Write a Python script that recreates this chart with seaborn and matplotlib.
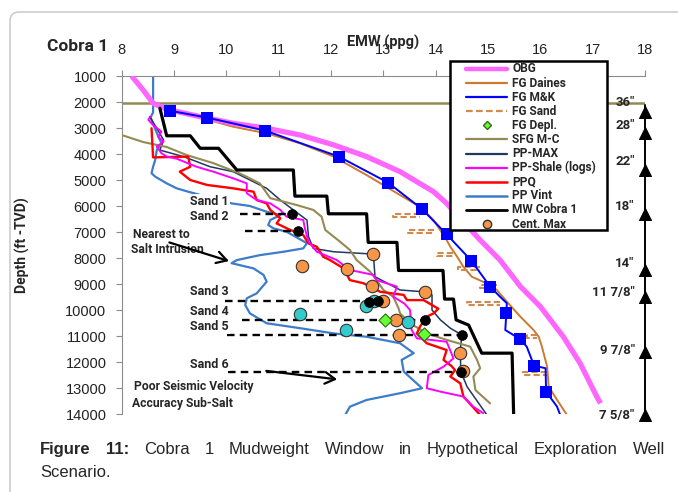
import numpy as np
import pandas as pd
import matplotlib
matplotlib.use("Agg")
import matplotlib.pyplot as plt
import seaborn as sns
from matplotlib.lines import Line2D
from matplotlib.patches import FancyBboxPatch, Rectangle
from matplotlib.transforms import IdentityTransform

# ---------------- data (ppg vs depth ft TVD) ----------------
obg_ppg = [8.19, 8.41, 8.60, 8.86, 9.50, 10.13, 10.77, 11.41, 12.05, 12.68, 13.32, 13.96,
           14.21, 14.50, 14.85, 15.23, 15.62, 16.00, 16.44, 16.76, 17.08, 17.15]
obg_depth = [1000, 1540, 2050, 2280, 2565, 2820, 3010, 3270, 3650, 4100, 4680, 5450,
             5900, 6550, 7310, 8080, 9100, 9870, 11030, 12050, 13340, 13590]

daines_ppg = [9.40, 10.13, 10.77, 11.41, 12.05, 12.68, 13.32, 13.70, 13.96, 14.21, 14.28, 14.41,
              14.53, 14.69, 14.98, 15.17, 15.36, 15.62, 15.87, 15.97, 16.03, 16.13, 16.16, 16.32, 16.51]
daines_depth = [2550, 2950, 3205, 3590, 4100, 4810, 5580, 6030, 6540, 7310, 7570, 7950,
                8340, 8720, 8980, 9230, 9680, 10260, 10770, 11030, 11410, 12180, 12950, 13460, 14040]

mk_ppg = [8.92, 9.63, 10.74, 12.15, 13.09, 13.74, 14.21, 14.68, 15.04, 15.23, 15.36, 15.35,
          15.33, 15.62, 15.74, 15.88, 16.10, 16.11, 16.32, 16.38]
mk_depth = [2335, 2600, 3100, 4100, 5100, 6120, 7090, 8100, 9100, 9490, 9740, 10130,
            10770, 11130, 11410, 12140, 12240, 13140, 13720, 14040]
mk_sq_ppg = [8.92, 9.63, 10.74, 12.15, 13.09, 13.74, 14.21, 14.68, 15.04, 15.35, 15.62, 15.88, 16.11]
mk_sq_depth = [2335, 2600, 3100, 4100, 5100, 6120, 7090, 8100, 9100, 10130, 11130, 12140, 13140]

# FG Sand: stepped dashed segments at sand depths
sand_fg_depth = [6350, 6990, 7870, 8400, 9100, 9740, 11030, 12430]
sand_fg_left = [13.19, 13.47, 14.03, 14.43, 14.85, 14.60, 15.75, 15.67]
sand_fg_right = [13.70, 13.96, 14.34, 14.85, 15.18, 15.23, 15.94, 16.13]

depl_ppg = [13.03, 13.77]
depl_depth = [10400, 10920]

sfg_ppg = [8.00, 8.41, 8.86, 9.24, 9.75, 10.26, 10.64, 10.84, 11.34, 11.66, 11.82, 11.89, 12.17,
           12.36, 12.49, 12.75, 12.87, 13.00, 13.19, 13.29, 13.32, 13.51, 13.83, 14.21, 14.66,
           14.79, 14.85, 14.72, 14.76, 15.04]
sfg_depth = [3270, 3540, 3730, 4040, 4350, 4750, 5130, 5700, 5960, 6150, 6410, 6920, 7370,
             7690, 8080, 8530, 8850, 9230, 9490, 9930, 10130, 10510, 10900, 11150, 11410,
             11920, 12240, 12560, 13080, 13590]

ppmax_ppg = [8.54, 8.80, 8.73, 9.18, 9.69, 10.13, 10.45, 10.77, 11.03, 11.28, 11.54, 11.57, 11.66,
             12.05, 12.81, 12.84, 13.32, 13.77, 13.93, 13.93, 14.09, 14.28, 14.50, 14.47, 14.48,
             14.60, 14.98]
ppmax_depth = [2565, 3460, 3850, 4100, 4490, 4680, 5000, 5320, 5770, 6150, 6540, 7180, 7630,
               7760, 7850, 8720, 9230, 9300, 9420, 10000, 10380, 10700, 10960, 11540, 12370,
               12950, 14040]

shale_ppg = [8.54, 8.51, 8.60, 8.76, 8.70, 8.80, 8.67, 8.76, 8.86, 9.05, 9.43, 9.75, 10.13, 10.39,
             10.39, 10.58, 10.84, 11.03, 11.15, 11.47, 11.50, 11.57, 11.73, 12.11, 12.36, 12.81,
             12.87, 13.26, 13.19, 13.40, 13.51, 13.54, 13.64, 14.21, 14.34, 14.15, 13.86, 13.83,
             14.09, 14.53, 14.72, 14.91]
shale_depth = [2565, 2690, 2885, 3140, 3330, 3525, 3720, 3970, 4100, 4180, 4490, 4680, 4935, 5130,
               5510, 5770, 5900, 6150, 6410, 6540, 6860, 7370, 7760, 8080, 8460, 8650,
               8850, 9100, 9490, 9750, 10000, 10770, 11090, 11220, 11860, 12180, 12500, 13010,
               13140, 13330, 13720, 13970]

ppq_ppg = [8.57, 8.60, 9.27, 9.31, 9.11, 9.31, 9.63, 10.13, 10.52, 10.58, 10.77, 10.84, 11.03,
           10.96, 11.22, 11.47, 11.57, 11.73, 11.85, 11.98, 12.24, 12.36, 12.62, 12.94, 13.39,
           13.45, 13.77, 14.05, 13.96, 13.83, 13.70, 13.64, 13.83, 14.21, 14.15, 14.30, 14.37,
           14.28, 14.47, 14.53, 14.59, 14.85]
ppq_depth = [3010, 4130, 4100, 4490, 4680, 5000, 5190, 5320, 5450, 5770, 5900, 6150, 6470,
             6670, 6920, 7120, 7440, 7570, 7950, 8080, 8400, 8850, 8970, 9300, 9420,
             9620, 9620, 9950, 10130, 10260, 10640, 10900, 11280, 11540, 11920, 12150, 12310,
             12560, 12820, 13330, 13460, 14040]

vint_ppg = [8.60, 8.60, 8.55, 8.70, 8.76, 8.67, 8.64, 8.60, 8.57, 8.64, 8.86, 9.05, 9.27, 10.10,
            10.45, 10.77, 11.03, 10.84, 10.80, 10.90, 11.15, 11.54, 11.47, 11.09, 10.64, 10.20,
            10.10, 10.52, 10.71, 10.77, 10.58, 10.39, 10.36, 10.45, 10.77, 11.41, 12.05, 12.68,
            13.32, 13.58, 13.35, 13.39, 13.74, 13.32, 12.68, 12.36, 12.27]
vint_depth = [1000, 2400, 2600, 3330, 3590, 3850, 4230, 4490, 4740, 4870, 5130, 5320, 5450, 5900,
              6000, 6220, 6350, 6540, 6730, 6860, 6990, 7430, 7630, 7760, 7890, 8080,
              8200, 8400, 8650, 8910, 9360, 9550, 9810, 10130, 10510, 10700, 10900, 11030,
              11280, 11660, 11920, 12370, 13010, 13200, 13460, 13720, 14040]

mw_ppg = [8.73, 8.86, 9.31, 9.50, 9.85, 10.20, 11.28, 11.31, 11.92, 11.95, 12.68, 12.71, 13.26,
          13.29, 14.14, 14.17, 14.34, 14.39, 14.63, 14.88, 15.46, 15.49]
mw_depth = [2240, 3300, 3300, 3780, 3780, 4615, 4615, 5620, 5620, 6300, 6300, 7400, 7400,
            8480, 8480, 9580, 9580, 10380, 10580, 11660, 11660, 14040]

cent_ppg = [12.81, 11.44, 12.30, 12.78, 13.80, 13.00, 13.24, 13.30, 14.47, 14.53]
cent_depth = [7850, 8310, 8440, 9080, 9300, 9660, 10380, 10980, 11640, 12350]

teal_ppg = [11.41, 12.28, 12.66, 12.83, 13.48]
teal_depth = [10150, 10780, 9830, 9640, 10450]

black_ppg = [11.25, 11.36, 12.72, 12.90, 13.80, 14.50, 14.48]
black_depth = [6310, 6950, 9700, 9650, 10385, 10960, 12370]

sand_line_depth = [6310, 6950, 9660, 10380, 10960, 12370]
sand_line_start = [10.26, 10.36, 9.98, 10.29, 10.01, 10.04]
sand_line_end = [11.25, 11.36, 12.70, 13.80, 14.50, 14.48]
sand_labels = ["Sand 1", "Sand 2", "Sand 3", "Sand 4", "Sand 5", "Sand 6"]
sand_label_depth = [5830, 6420, 9270, 10040, 10640, 12080]

mudline_depth = 2050
casing_depth = [2400, 3200, 4600, 6300, 8450, 9500, 11600, 14050]
casing_label = ['36"', '28"', '22"', '18"', '14"', '11 7/8"', '9 7/8"', '7 5/8"']
casing_label_depth = [2000, 2885, 4296, 6027, 8230, 9310, 11540, 14040]

legend_labels = ["OBG", "FG Daines", "FG M&K", "FG Sand", "FG Depl.", "SFG M-C", "PP-MAX",
                 "PP-Shale (logs)", "PPQ", "PP Vint", "MW Cobra 1", "Cent. Max"]

# ---------------- colours ----------------
C_OBG = "#FF66FF"
C_DAINES = "#CC7A2E"
C_MK = "#0000FF"
C_SAND = "#D08A4E"
C_DEPL = "#66FF33"
C_SFG = "#948A54"
C_PPMAX = "#1F3864"
C_SHALE = "#FF00FF"
C_PPQ = "#FF0000"
C_VINT = "#3D7CC9"
C_MW = "#000000"
C_CENT = "#F79646"
C_TEAL = "#33CCCC"

sns.set_theme(style="white")
plt.rcParams['font.family'] = ['Liberation Sans', 'DejaVu Sans']
BOLD = ['Roboto', 'DejaVu Sans']

W, H = 678, 492
fig = plt.figure(figsize=(W / 100, H / 100), dpi=100)
fig.patch.set_facecolor("white")
ax = fig.add_axes([121.7 / W, 1 - 414 / H, (645 - 121.7) / W, (414 - 76) / H])
ax.set_facecolor("white")


def fx(x, y):
    return (x / W, 1 - y / H)


def line(xs, ys, **kw):
    df = pd.DataFrame({"ppg": xs, "depth": ys})
    sns.lineplot(data=df, x="ppg", y="depth", sort=False, estimator=None, ax=ax,
                 legend=False, **kw)


# lines
line(vint_ppg, vint_depth, color=C_VINT, linewidth=1.6, zorder=2)
line(ppmax_ppg, ppmax_depth, color=C_PPMAX, linewidth=1.1, zorder=3)
line(sfg_ppg, sfg_depth, color=C_SFG, linewidth=1.5, zorder=3)
line(ppq_ppg, ppq_depth, color=C_PPQ, linewidth=1.7, zorder=4)
line(shale_ppg, shale_depth, color=C_SHALE, linewidth=1.4, zorder=4)
line(daines_ppg, daines_depth, color=C_DAINES, linewidth=1.4, zorder=3)

# FG Sand stepped dashed segments
rows = []
for i, (d, l, r) in enumerate(zip(sand_fg_depth, sand_fg_left, sand_fg_right)):
    for xx, yy in [(r, d - 60), (l, d - 60), (l, d + 60), (r, d + 60)]:
        rows.append({"seg": i, "ppg": xx, "depth": yy})
sdf = pd.DataFrame(rows)
sns.lineplot(data=sdf, x="ppg", y="depth", units="seg", estimator=None, sort=False, ax=ax,
             color=C_SAND, linewidth=1.5, linestyle=(0, (3, 1.5)), legend=False, zorder=3)

line(mk_ppg, mk_depth, color=C_MK, linewidth=1.4, zorder=5)
line(obg_ppg, obg_depth, color=C_OBG, linewidth=3.8, zorder=4, solid_capstyle="butt")
ax.axhline(mudline_depth, color=C_SFG, linewidth=1.8, zorder=2)
line(mw_ppg, mw_depth, color=C_MW, linewidth=2.3, zorder=6)

# sand dashed lines
for d, s, e in zip(sand_line_depth, sand_line_start, sand_line_end):
    line([s, e], [d, d], color="black", linewidth=1.7, linestyle=(0, (3.2, 2.2)), zorder=6)

# markers
sns.scatterplot(x=mk_sq_ppg, y=mk_sq_depth, marker="s", s=85, color=C_MK, edgecolor=C_MK,
                linewidth=0, ax=ax, legend=False, zorder=7)
sns.scatterplot(x=cent_ppg, y=cent_depth, marker="o", s=80, color=C_CENT, edgecolor="#333333",
                linewidth=0.8, ax=ax, legend=False, zorder=8)
sns.scatterplot(x=teal_ppg, y=teal_depth, marker="o", s=80, color=C_TEAL, edgecolor="#333333",
                linewidth=0.8, ax=ax, legend=False, zorder=8)
sns.scatterplot(x=black_ppg, y=black_depth, marker="o", s=50, color="black", edgecolor="black",
                linewidth=0.5, ax=ax, legend=False, zorder=9)
sns.scatterplot(x=depl_ppg, y=depl_depth, marker="D", s=45, color=C_DEPL, edgecolor="#2E6B12",
                linewidth=0.8, ax=ax, legend=False, zorder=9)

# casing column
line([18] * 2, [mudline_depth + 50, casing_depth[-1]], color="black", linewidth=1.4, zorder=6)
ax.lines[-1].set_clip_on(False)
sns.scatterplot(x=[18] * len(casing_depth), y=casing_depth, marker="^", s=75, color="black",
                edgecolor="black", ax=ax, legend=False, zorder=7, clip_on=False)
for lab, d in zip(casing_label, casing_label_depth):
    ax.text(17.80, d, lab, ha="right", va="center", fontsize=9.5, fontweight="bold",
            family=BOLD, clip_on=False, zorder=10)

# sand labels
for lab, d in zip(sand_labels, sand_label_depth):
    ax.text(10.05, d, lab, ha="right", va="center", fontsize=9, fontweight="bold",
            family=BOLD, zorder=10,
            bbox=dict(facecolor="white", edgecolor="none", pad=0.6))

ax.text(8.22, 7115, "Nearest to", ha="left", va="center", fontsize=8.7, fontweight="bold",
        family=BOLD, zorder=10)
ax.text(8.17, 7654, "Salt Intrusion", ha="left", va="center", fontsize=8.7, fontweight="bold",
        family=BOLD, zorder=10)
ax.annotate("", xy=(10.1, 8150), xytext=(8.86, 7370),
            arrowprops=dict(arrowstyle="->,head_length=0.6,head_width=0.35", lw=1.6, color="black"),
            zorder=10)
ax.text(8.23, 12960, "Poor Seismic Velocity", ha="left", va="center", fontsize=8.7,
        fontweight="bold", family=BOLD, zorder=10)
ax.text(8.19, 13580, "Accuracy Sub-Salt", ha="left", va="center", fontsize=8.7,
        fontweight="bold", family=BOLD, zorder=10)
ax.annotate("", xy=(12.17, 12680), xytext=(10.71, 12330),
            arrowprops=dict(arrowstyle="->,head_length=0.6,head_width=0.35", lw=1.6, color="black"),
            zorder=10)

# axes styling
ax.set_xlim(8, 18)
ax.set_ylim(14000, 1000)
ax.xaxis.tick_top()
ax.set_xticks(range(8, 19))
ax.set_yticks(range(1000, 14001, 1000))
ax.set_xlabel("")
ax.set_ylabel("")
ax.tick_params(axis="x", which="both", top=True, bottom=False, direction="out", length=4,
               width=0.8, color="#8c8c8c", pad=9.5, labelsize=10.5, labelcolor="#222222")
ax.tick_params(axis="y", which="both", left=True, direction="out", length=4, width=0.8,
               color="#8c8c8c", pad=7, labelsize=10.5, labelcolor="#222222")
for s in ["right", "bottom"]:
    ax.spines[s].set_visible(False)
for s in ["top", "left"]:
    ax.spines[s].set_color("#8c8c8c")
    ax.spines[s].set_linewidth(0.8)

# titles
fig.text(*fx(47, 46.5), "Cobra 1", ha="left", va="center", fontsize=12.5, fontweight="bold",
         family=BOLD)
fig.text(*fx(383, 42.5), "EMW (ppg)", ha="center", va="center", fontsize=10.5, fontweight="bold",
         family=BOLD, zorder=5)
fig.text(*fx(22, 245), "Depth (ft -TVD)", ha="center", va="center", rotation=90, fontsize=10,
         fontweight="bold", family=BOLD)

# manual legend
lx0, ly0, lx1, ly1 = 449.5, 61.5, 606.5, 230
fig.add_artist(Rectangle(fx(lx0, ly1), (lx1 - lx0) / W, (ly1 - ly0) / H, transform=fig.transFigure,
                         facecolor="white", edgecolor="black", linewidth=1.8, zorder=20))
styles = [
    dict(color=C_OBG, lw=3.2),
    dict(color=C_DAINES, lw=1.6),
    dict(color=C_MK, lw=1.6),
    dict(color=C_SAND, lw=1.6, ls=(0, (3, 1.5))),
    dict(marker="D", color=C_DEPL, mec="#2E6B12", ms=4.5),
    dict(color=C_SFG, lw=1.6),
    dict(color=C_PPMAX, lw=1.6),
    dict(color=C_SHALE, lw=1.6),
    dict(color=C_PPQ, lw=1.8),
    dict(color=C_VINT, lw=1.8),
    dict(color="black", lw=2.0),
    dict(marker="o", color=C_CENT, mec="#333333", ms=6),
]
for i, (lab, st) in enumerate(zip(legend_labels, styles)):
    y = 69 + i * 14.1
    if "marker" in st:
        fig.add_artist(Line2D([486.5 / W], [1 - y / H], linestyle="none", marker=st["marker"],
                              markerfacecolor=st["color"], markeredgecolor=st["mec"],
                              markersize=st["ms"], transform=fig.transFigure, zorder=21))
    else:
        fig.add_artist(Line2D([466 / W, 506.5 / W], [1 - y / H, 1 - y / H], color=st["color"],
                              linewidth=st["lw"], linestyle=st.get("ls", "-"),
                              transform=fig.transFigure, zorder=21))
    fig.text(512.5 / W, 1 - y / H, lab, ha="left", va="center", fontsize=8.6,
             fontweight="bold", family=BOLD, zorder=22)

# outer rounded frame
frame = FancyBboxPatch((10, -30), 700, 510, boxstyle="round,pad=0,rounding_size=9",
                       transform=IdentityTransform(), facecolor="none", edgecolor="#c4c4c4",
                       linewidth=1.0, zorder=0)
fig.add_artist(frame)

# caption (justified first line)
renderer = fig.canvas.get_renderer()
words = [("Figure", True), ("11:", True), ("Cobra", False), ("1", False), ("Mudweight", False),
         ("Window", False), ("in", False), ("Hypothetical", False), ("Exploration", False),
         ("Well", False)]
tobjs = []
for w, b in words:
    t = fig.text(0, 1 - 454 / H, w, ha="left", va="baseline", fontsize=12,
                 fontweight="bold" if b else "normal", family=["Liberation Sans", "DejaVu Sans"])
    tobjs.append(t)
widths = [t.get_window_extent(renderer).width for t in tobjs]
x_left, x_right = 40, 665
gap = (x_right - x_left - sum(widths)) / (len(words) - 1)
xc = x_left
for t, wd in zip(tobjs, widths):
    t.set_x(xc / W)
    xc += wd + gap
fig.text(40 / W, 1 - 477 / H, "Scenario.", ha="left", va="baseline", fontsize=12,
         family=["Liberation Sans", "DejaVu Sans"])

fig.savefig("out.png", dpi=100)
